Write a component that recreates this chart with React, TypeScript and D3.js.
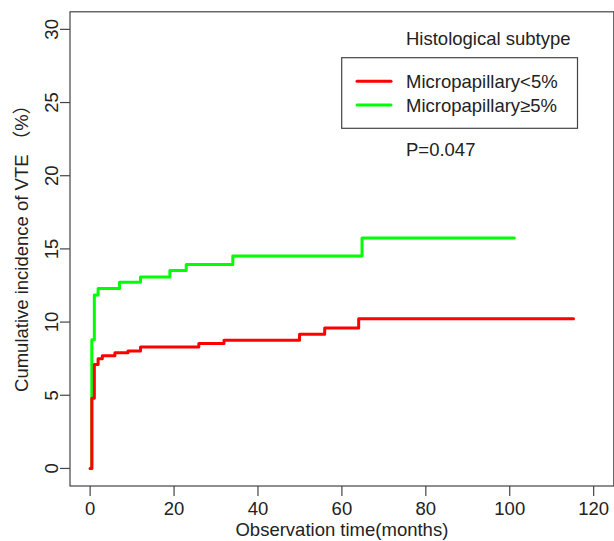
import React from 'react';
import * as d3 from 'd3';

// cumulative incidence curves (months, %)
const lowTimes = [0, 0.4, 1.0, 1.9, 2.9, 5.9, 9.0, 12.0, 25.9, 31.9, 49.9, 55.9, 64.0, 115.2];
const lowValues = [0, 4.8, 7.1, 7.5, 7.7, 7.9, 8.03, 8.3, 8.54, 8.76, 9.16, 9.59, 10.23, 10.23];

const highTimes = [0, 0.4, 1.0, 1.9, 7.0, 12.0, 19.0, 22.9, 34.0, 64.8, 101.1];
const highValues = [0, 8.8, 11.85, 12.3, 12.72, 13.08, 13.52, 13.94, 14.51, 15.74, 15.74];

const seriesNames = ['Micropapillary<5%', 'Micropapillary\u22655%'];
const seriesColors = ['#ff0000', '#00ff00'];

const xTicks = [0, 20, 40, 60, 80, 100, 120];
const yTicks = [0, 5, 10, 15, 20, 25, 30];

const width = 614;
const height = 541;
const font = '"Liberation Sans", Arial, "Noto Sans CJK SC", sans-serif';
const axisColor = '#444';
const textColor = '#222';

const App = () => {
  const xScale = d3.scaleLinear().domain([-4.8, 124.8]).range([70, 613.8]);
  const yScale = d3.scaleLinear().domain([-1.2, 31.2]).range([486, 11.8]);

  const line = d3.line<[number, number]>()
    .x(d => xScale(d[0]))
    .y(d => yScale(d[1]))
    .curve(d3.curveStepAfter);

  const lowData = lowTimes.map((t, i) => [t, lowValues[i]] as [number, number]);
  const highData = highTimes.map((t, i) => [t, highValues[i]] as [number, number]);

  const [x0, x1] = xScale.range();
  const [y0, y1] = yScale.range();

  return (
    <svg width={width} height={height} style={{ position: 'absolute', left: 0, top: 0, background: '#fff' }}
      fontFamily={font}>
      {/* curves: green first so red sits on top */}
      <path d={line(highData) || ''} fill="none" stroke={seriesColors[1]} strokeWidth={3}
        strokeLinejoin="round" strokeLinecap="round" />
      <path d={line(lowData) || ''} fill="none" stroke={seriesColors[0]} strokeWidth={3}
        strokeLinejoin="round" strokeLinecap="round" />

      {/* frame */}
      <rect x={x0} y={y1} width={x1 - x0} height={y0 - y1} fill="none" stroke={axisColor} strokeWidth={1.2} />

      {/* x axis */}
      <g>
        {xTicks.map(t => (
          <g key={t} transform={`translate(${xScale(t)},0)`}>
            <line y1={y0} y2={y0 + 10} stroke={axisColor} strokeWidth={1.2} />
            <text y={515} textAnchor="middle" fontSize={18.5} fill={textColor}>{t}</text>
          </g>
        ))}
        <text x={(x0 + x1) / 2} y={536} textAnchor="middle" fontSize={18.5} fill={textColor}>
          Observation time(months)
        </text>
      </g>

      {/* y axis */}
      <g>
        {yTicks.map(t => (
          <g key={t}>
            <line x1={x0 - 10} x2={x0} y1={yScale(t)} y2={yScale(t)} stroke={axisColor} strokeWidth={1.2} />
            <text transform={`translate(58,${yScale(t)}) rotate(-90)`} textAnchor="middle" fontSize={18.5}
              fill={textColor}>{t}</text>
          </g>
        ))}
        <text transform={`translate(28,${(y0 + y1) / 2 - 5}) rotate(-90)`} textAnchor="middle" fontSize={18.5}
          fill={textColor}>
          Cumulative incidence of VTE （%）
        </text>
      </g>

      {/* legend */}
      <text x={406} y={45} fontSize={18.5} fill={textColor}>Histological subtype</text>
      <rect x={341.7} y={57.7} width={235.8} height={70.6} fill="none" stroke={axisColor} strokeWidth={1.2} />
      {seriesNames.map((name, i) => (
        <g key={name}>
          <line x1={357} x2={391} y1={81.3 + i * 23.7} y2={81.3 + i * 23.7} stroke={seriesColors[i]}
            strokeWidth={3} strokeLinecap="round" />
          <text x={406} y={88.3 + i * 24} fontSize={18.5} fill={textColor}>{name}</text>
        </g>
      ))}
      <text x={406} y={156} fontSize={18.5} fill={textColor}>P=0.047</text>
    </svg>
  );
};

export default App;
